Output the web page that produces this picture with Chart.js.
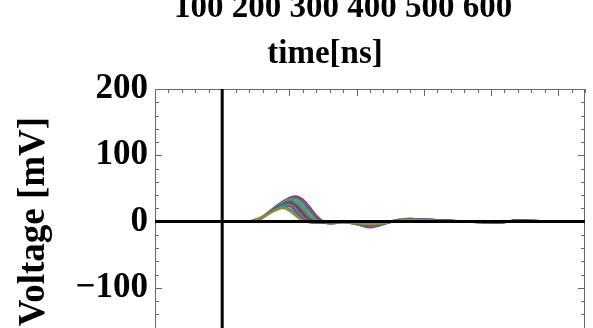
<!DOCTYPE html>
<html lang="en">
<head>
  <meta charset="UTF-8" />
  <title>Voltage vs time</title>
  <script src="https://cdn.jsdelivr.net/npm/chart.js"></script>
  <style>
    * { box-sizing: border-box; }
    body {
      margin: 0;
      background: #ffffff;
      overflow: hidden;
    }
    .wrap {
      width: 593px;
      height: 328px;
      overflow: hidden;
      position: relative;
    }
    canvas { display: block; }
  </style>
</head>
<body>
  <div class="wrap">
    <canvas id="pulseChart" width="593" height="382"></canvas>
  </div>

  <script>
    // time axis in ns, shared by all traces
    const times = [-100, 0, 20, 40, 50, 60, 70, 80, 90, 100, 110, 120, 130, 140, 150, 160, 180, 200, 220, 240, 260, 280, 300, 340, 380, 400, 420, 440, 460, 500, 540];

    // voltage in mV, one array per recorded pulse
    const trace1  = [0, 0, 0, 0, 3, 7, 12, 17, 20, 16, 8, 1, -1, -1, 0, 0, 0, -2, -4, -2, 1, 2, 2, 0, 0, -1, 0, 1, 0, 0, 0];
    const trace2  = [0, 0, 0, 0, 3, 7, 12, 18, 22, 19, 10, 2, -1, -1, 0, 0, 0, -2, -4, -2, 1, 2, 2, 0, 0, -1, 0, 1, 0, 0, 0];
    const trace3  = [0, 0, 0, 0, 3, 7, 13, 19, 23, 23, 14, 4, -1, -2, -1, 0, 0, -2, -5, -2, 1, 2, 2, 1, 0, -1, 0, 1, 0, 0, 0];
    const trace4  = [0, 0, 0, 0, 2, 7, 13, 19, 24, 26, 18, 7, 0, -2, -1, -1, 0, -3, -5, -3, 1, 3, 2, 1, 0, -1, 0, 1, 1, 0, 0];
    const trace5  = [0, 0, 0, 0, 2, 7, 13, 20, 25, 28, 22, 11, 2, -2, -2, -1, 0, -3, -6, -3, 1, 3, 3, 1, 0, -1, -1, 2, 1, 0, 0];
    const trace6  = [0, 0, 0, 0, 2, 6, 13, 20, 26, 30, 26, 15, 4, -1, -2, -2, 0, -3, -6, -3, 1, 3, 3, 1, 0, -2, -1, 2, 1, 0, 0];
    const trace7  = [0, 0, 0, 0, 2, 6, 13, 21, 27, 31, 30, 20, 8, 0, -2, -2, -1, -3, -7, -3, 2, 3, 3, 1, -1, -2, -1, 2, 1, 0, 0];
    const trace8  = [0, 0, 0, 0, 2, 6, 14, 21, 28, 33, 33, 24, 12, 2, -2, -2, -1, -4, -7, -3, 2, 4, 3, 1, -1, -2, -1, 2, 1, 0, 0];
    const trace9  = [0, 0, 0, 0, 2, 6, 14, 22, 29, 35, 36, 29, 17, 5, -1, -3, -1, -4, -8, -4, 2, 4, 3, 1, -1, -2, -1, 2, 1, 0, 0];
    const trace10 = [0, 0, 0, 0, 2, 7, 15, 23, 30, 36, 38, 33, 22, 9, 0, -3, -1, -4, -9, -4, 2, 4, 3, 1, -1, -2, -1, 2, 1, 0, 0];

    const traces = [trace1, trace2, trace3, trace4, trace5, trace6, trace7, trace8, trace9, trace10];
    const colors = ['#998b3d', '#3d9994', '#993d71', '#3d9957', '#5a3d99', '#99463d', '#3d9994', '#7b993d', '#3d6b99', '#993d71'];

    const yTickLabels = [200, 100, 0, -100, -200];
    const topLabels = '100 200 300 400 500 600';
    const topTitle = 'time[ns]';

    const datasets = traces.map((vals, i) => ({
      data: vals.map((v, j) => ({ x: times[j], y: v })),
      borderColor: colors[i],
      borderWidth: 2.2,
      pointRadius: 0,
      fill: false,
      cubicInterpolationMode: 'monotone'
    }));

    // frame with inward ticks, thick axes through the origin, and the cropped top texts
    const framePlugin = {
      id: 'frame',
      afterDatasetsDraw(chart) {
        const { ctx, chartArea: a, scales: { x, y } } = chart;
        ctx.save();

        ctx.strokeStyle = '#666';
        ctx.lineWidth = 1;
        ctx.beginPath();
        ctx.moveTo(a.left + 0.5, a.bottom);
        ctx.lineTo(a.left + 0.5, a.top + 0.5);
        ctx.lineTo(a.right - 0.5, a.top + 0.5);
        ctx.lineTo(a.right - 0.5, a.bottom);
        ctx.stroke();

        ctx.beginPath();
        for (let t = -100; t <= 540; t += 20) {
          const px = Math.round(x.getPixelForValue(t)) + 0.5;
          const len = t % 100 === 0 ? 7 : 4;
          ctx.moveTo(px, a.top);
          ctx.lineTo(px, a.top + len);
        }
        for (let v = -200; v <= 200; v += 20) {
          const py = Math.round(y.getPixelForValue(v)) + 0.5;
          const len = v % 100 === 0 ? 7 : 4;
          ctx.moveTo(a.left, py);
          ctx.lineTo(a.left + len, py);
          ctx.moveTo(a.right, py);
          ctx.lineTo(a.right - len, py);
        }
        ctx.stroke();

        ctx.strokeStyle = '#000';
        ctx.lineWidth = 3;
        const y0 = y.getPixelForValue(0);
        const x0 = x.getPixelForValue(0);
        ctx.beginPath();
        ctx.moveTo(a.left, y0);
        ctx.lineTo(a.right, y0);
        ctx.moveTo(x0, a.top);
        ctx.lineTo(x0, a.bottom);
        ctx.stroke();

        ctx.fillStyle = '#000';
        ctx.font = 'bold 33px "Liberation Serif"';
        ctx.textAlign = 'center';
        ctx.textBaseline = 'alphabetic';
        ctx.fillText(topLabels, 343, 17);
        ctx.fillText(topTitle, 325, 63);
        ctx.restore();
      }
    };

    new Chart(document.getElementById('pulseChart'), {
      type: 'line',
      data: { datasets: datasets },
      options: {
        responsive: false,
        animation: false,
        devicePixelRatio: 1,
        layout: { padding: { top: 89, right: 8, bottom: 0, left: 0 } },
        plugins: {
          legend: { display: false },
          tooltip: { enabled: false }
        },
        scales: {
          x: {
            type: 'linear',
            min: -100,
            max: 540,
            display: false
          },
          y: {
            min: -200,
            max: 200,
            afterFit(scale) { scale.width = 155; },
            grid: { display: false, drawTicks: false },
            border: { display: false },
            ticks: {
              stepSize: 100,
              autoSkip: false,
              padding: 7,
              color: '#000',
              font: { family: 'Liberation Serif', size: 35, weight: 'bold' },
              callback: v => yTickLabels.includes(v) ? (v < 0 ? '\u2212' + Math.abs(v) : String(v)) : ''
            },
            title: {
              display: true,
              text: 'Voltage [mV]',
              color: '#000',
              font: { family: 'Liberation Serif', size: 37, weight: 'bold' },
              padding: { top: 12, bottom: 0 }
            }
          }
        }
      },
      plugins: [framePlugin]
    });
  </script>
</body>
</html>
